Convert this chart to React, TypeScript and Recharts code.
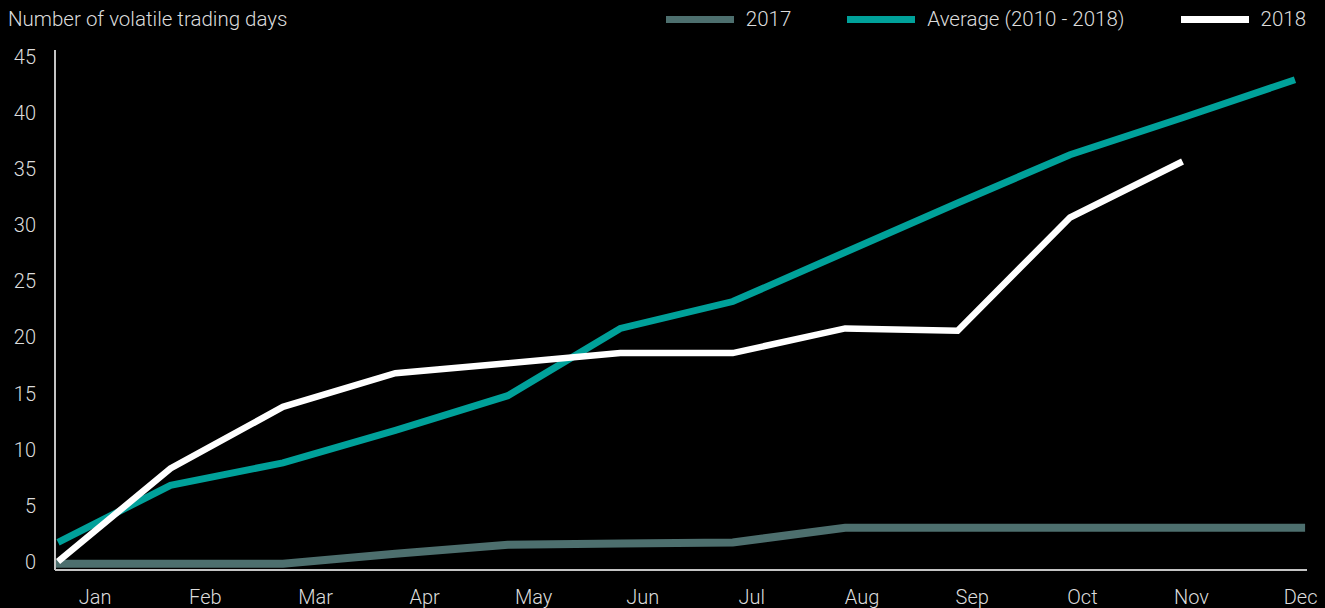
import React from 'react'
import { LineChart, Line, XAxis, YAxis, Legend } from 'recharts'

const GREY_TEAL = '#4d6f6e'
const TEAL = '#00a19a'
const WHITE = '#ffffff'
const AXIS = '#c4c4c4'
const TEXT = '#dcdcdc'
const FONT = "Roboto, 'Liberation Sans', Arial, sans-serif"

// month labels sit slightly offset from the data points in the original
const MONTHS = ['Jan', 'Feb', 'Mar', 'Apr', 'May', 'Jun', 'Jul', 'Aug', 'Sep', 'Oct', 'Nov', 'Dec']
const MONTH_LABEL_POS = [0.33, 1.31, 2.29, 3.26, 4.23, 5.2, 6.17, 7.15, 8.13, 9.11, 10.08, 11.05]
const Y_TICKS = [0, 5, 10, 15, 20, 25, 30, 35, 40, 45]

const POS = [0, 1, 2, 3, 4, 5, 6, 7, 8, 9, 10, 11]
const POS_2017 = [-0.03, 1, 2, 3, 4, 5, 6, 7, 8, 9, 10, 11.09]

const VALUES_2017 = [-0.2, -0.2, -0.2, 0.7, 1.5, 1.6, 1.7, 3.0, 3.0, 3.0, 3.0, 3.0]
const VALUES_AVG = [1.7, 6.8, 8.8, 11.7, 14.8, 20.8, 23.2, 27.6, 32.0, 36.3, 39.6, 43.0]
const VALUES_2018 = [0, 8.3, 13.8, 16.8, 17.7, 18.6, 18.6, 20.8, 20.6, 30.7, 35.7]

const toRows = (pos: number[], vals: number[]) => vals.map((v, i) => ({ x: pos[i], y: v }))

const SERIES = [
  { name: '2017', color: GREY_TEAL, width: 8, data: toRows(POS_2017, VALUES_2017) },
  { name: 'Average (2010 - 2018)', color: TEAL, width: 7, data: toRows(POS, VALUES_AVG) },
  { name: '2018', color: WHITE, width: 6.5, data: toRows(POS, VALUES_2018) },
]

const TopLegend = () => (
  <div style={{ display: 'flex', alignItems: 'center', height: 38, fontFamily: FONT, fontSize: 20.5, fontWeight: 300, color: TEXT }}>
    <div style={{ paddingLeft: 8, flex: 1 }}>Number of volatile trading days</div>
    <div style={{ display: 'flex', gap: 56, paddingRight: 19 }}>
      {SERIES.map(s => (
        <div key={s.name} style={{ display: 'flex', alignItems: 'center' }}>
          <span style={{ width: 68, height: 7, background: s.color, marginRight: 12, display: 'inline-block' }} />
          {s.name}
        </div>
      ))}
    </div>
  </div>
)

export default function App() {
  return (
    <div style={{ position: 'fixed', left: 0, top: 0, width: 1325, height: 608, background: '#000' }}>
      <LineChart width={1325} height={608} margin={{ top: 50, right: 18, bottom: 0, left: 0 }}>
        <XAxis dataKey="x" type="number" domain={[-0.027, 11.107]} ticks={MONTH_LABEL_POS}
          tickFormatter={(_: number, i: number) => MONTHS[i]} interval={0} allowDataOverflow
          height={38} stroke={AXIS} strokeWidth={2} tickLine={false} tickSize={6} tickMargin={14}
          tick={{ fill: TEXT, fontSize: 20, fontFamily: FONT, fontWeight: 300 }} />
        <YAxis type="number" domain={[-0.76, 45.65]} ticks={Y_TICKS} interval={0} allowDataOverflow
          width={55} stroke={AXIS} strokeWidth={2} tickLine={false} tickSize={6} tickMargin={13}
          tick={{ fill: TEXT, fontSize: 20, fontFamily: FONT, fontWeight: 300 }} />
        <Legend layout="horizontal" align="center" verticalAlign="middle" content={<TopLegend />}
          wrapperStyle={{ top: 0, left: 0, width: 1325 }} />
        {SERIES.map(s => (
          <Line key={s.name} data={s.data} dataKey="y" name={s.name} type="linear" stroke={s.color}
            strokeWidth={s.width} dot={false} activeDot={false} isAnimationActive={false} />
        ))}
      </LineChart>
    </div>
  )
}
